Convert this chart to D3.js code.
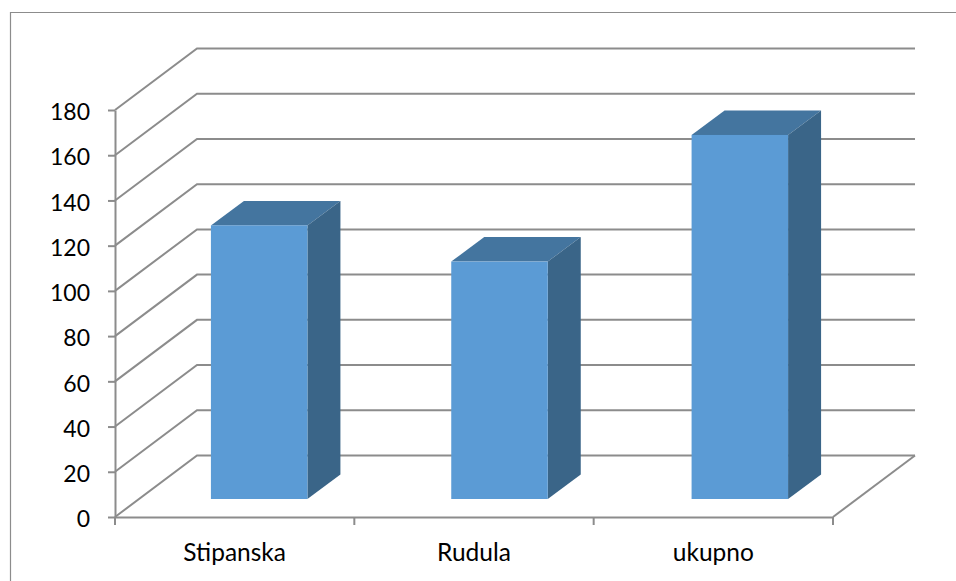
<!DOCTYPE html>
<html>
<head>
<meta charset="utf-8">
<script src="https://cdn.jsdelivr.net/npm/d3@7"></script>
<style>
  html, body { margin: 0; padding: 0; background: #fff; }
  svg { display: block; }
  text { font-family: Lato, sans-serif; fill: #000; }
</style>
</head>
<body>
<svg width="956" height="581"></svg>
<script>

var categories = ["Stipanska", "Rudula", "ukupno"]
var values = [121, 105, 161]
var y_ticks = [0, 20, 40, 60, 80, 100, 120, 140, 160, 180]

var svg = d3.select("svg")

// outer frame, only top and left are in the picture
svg.append("path")
  .attr("d", "M956,12.5H10.5V581")
  .style("fill", "none")
  .style("stroke", "#8c8c8c")
  .style("stroke-width", 1.2)

var x = d3.scaleBand().domain(categories).range([115, 833])
// the bars are spaced slightly wider than the axis ticks
var x_bars = d3.scaleBand().domain(categories).range([115, 836])
var y = d3.scaleLinear().domain([0, 180]).range([517, 110])

// depth of the 3d box and of the bars
var depth_x = 82
var depth_y = -61.5
var bar_shift_x = 24
var bar_shift_y = -18
var bar_depth_x = 33
var bar_depth_y = -24.5
var bar_width = 96.5

var grid_color = "#8c8c8c"

// walls: sloped side plus back line for every tick

svg.selectAll(".grid").data(y_ticks)
  .enter().append("polyline")
    .attr("class", "grid")
    .attr("points", function(d){
      return [[115, y(d)], [115 + depth_x, y(d) + depth_y], [833 + depth_x, y(d) + depth_y]].join(" ")
    })
    .style("fill", "none")
    .style("stroke", grid_color)
    .style("stroke-width", 2)

// floor edge on the right side
svg.append("line")
  .attr("x1", 833).attr("y1", y(0))
  .attr("x2", 833 + depth_x).attr("y2", y(0) + depth_y)
  .style("stroke", grid_color)
  .style("stroke-width", 2)

// axes

var y_axis = svg.append("g")
  .attr("transform", "translate(115,0)")
  .call(d3.axisLeft(y).tickValues(y_ticks).tickSize(7).tickSizeOuter(0).tickPadding(18))

y_axis.selectAll("text")
  .attr("dy", "0.42em")
  .style("font-family", "Lato, sans-serif")
  .style("font-size", "23px")

var x_axis = svg.append("g")
  .attr("transform", "translate(0," + y(0) + ")")
  .call(d3.axisBottom(x).tickSize(0).tickPadding(27))

x_axis.selectAll("text").style("font-family", "Lato, sans-serif").style("font-size", "24.5px")

// ticks sit on the category edges, not the centers
x_axis.selectAll(".edge").data(d3.range(categories.length + 1))
  .enter().append("line")
    .attr("class", "edge")
    .attr("x1", function(d){ return x.range()[0] + d * x.step(); })
    .attr("x2", function(d){ return x.range()[0] + d * x.step(); })
    .attr("y1", 0)
    .attr("y2", 8)

svg.selectAll(".domain, .tick line, .edge")
  .style("stroke", grid_color)
  .style("stroke-width", 2)

// bars

function bar_left(d) { return x_bars(d.name) + (x_bars.bandwidth() - bar_width) / 2 + bar_shift_x; }
function bar_base() { return y(0) + bar_shift_y; }
function bar_top(d) { return bar_base() - (y(0) - y(d.value)); }

var bar_data = categories.map(function(c, i){ return {name: c, value: values[i]}; })

var bars = svg.selectAll(".bar").data(bar_data)
  .enter().append("g")
    .attr("class", "bar")

bars.append("polygon")
  .attr("points", function(d){
    var l = bar_left(d), t = bar_top(d)
    return [[l, t], [l + bar_width, t], [l + bar_width + bar_depth_x, t + bar_depth_y], [l + bar_depth_x, t + bar_depth_y]].join(" ")
  })
  .style("fill", "#44759f")

bars.append("polygon")
  .attr("points", function(d){
    var r = bar_left(d) + bar_width, t = bar_top(d), b = bar_base()
    return [[r, t], [r + bar_depth_x, t + bar_depth_y], [r + bar_depth_x, b + bar_depth_y], [r, b]].join(" ")
  })
  .style("fill", "#3a6588")

bars.append("rect")
  .attr("x", bar_left)
  .attr("y", bar_top)
  .attr("width", bar_width)
  .attr("height", function(d){ return bar_base() - bar_top(d); })
  .style("fill", "#5b9bd5")

</script>
</body>
</html>
